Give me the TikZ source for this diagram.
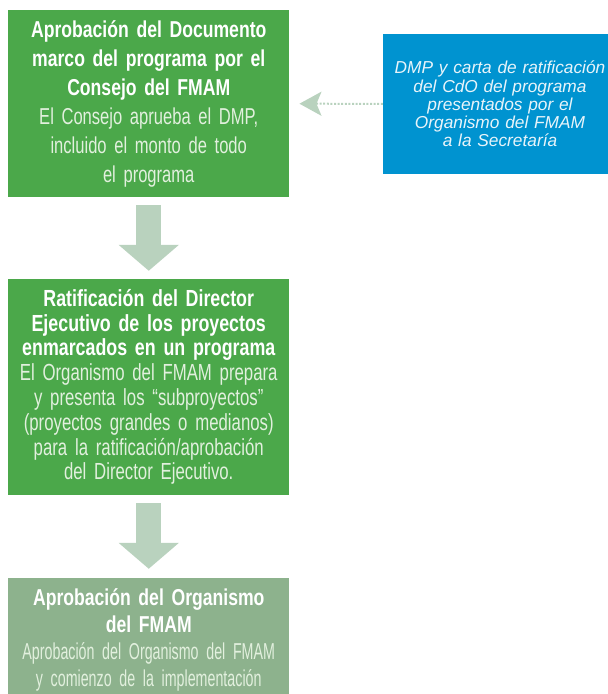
\documentclass[tikz,border=0pt]{standalone}
\usepackage{fontspec}
\setmainfont{Liberation Sans}
\newfontfamily\headfont[FakeStretch=0.765]{Liberation Sans}
\newfontfamily\bodyfont[FakeStretch=0.72]{Liberation Sans}
\newfontfamily\bodynarrow[FakeStretch=0.62]{Liberation Sans}
\usetikzlibrary{arrows.meta}
\definecolor{boxgreen}{RGB}{75,168,74}
\definecolor{palegreen}{RGB}{141,178,141}
\definecolor{arrowgreen}{RGB}{185,210,190}
\definecolor{noteblue}{RGB}{0,147,208}
\definecolor{bodywhite}{RGB}{226,240,222}
\begin{document}
\begin{tikzpicture}[%
x=1pt, y=1pt,
stepbox/.style={fill=boxgreen, text=white, inner sep=0pt, minimum width=281pt, text width=274pt, align=center},
notebox/.style={fill=noteblue, text={rgb,255:red,232;green,244;blue,250}, inner sep=0pt, minimum width=234pt, minimum height=140pt, text width=228pt, align=center, font={\itshape\fontsize{17.3}{18.2}\selectfont}},
blockarrow/.style={draw=arrowgreen, line width=25pt, -{Triangle[length=26pt,width=59pt]}},
noteline/.style={draw=arrowgreen, line width=2pt, dash pattern=on 2pt off 1.6pt, -{Stealth[length=22pt,width=24pt,inset=5pt]}},
]
\useasboundingbox (0,0) rectangle (608,694);
\clip (0,0) rectangle (608,694);
%% box;
\node [stepbox, minimum height=187pt, font={\fontsize{23}{29}\selectfont}] (dmp) at (148.75,590.5)
{\headfont\bfseries Aprobación del Documento\\ marco del programa por el\\ Consejo del FMAM\\
\bodyfont\mdseries\color{bodywhite} El Consejo aprueba el DMP,\\ incluido el monto de todo\\ el programa};
%% box;
\node [stepbox, minimum height=216pt, font={\fontsize{23.3}{24.8}\selectfont}] (ratif) at (148.75,307)
{\headfont\bfseries Ratificación del Director\\ Ejecutivo de los proyectos\\ enmarcados en un programa\\
\bodyfont\mdseries\color{bodywhite} El Organismo del FMAM prepara\\ y presenta los “subproyectos”\\ (proyectos grandes o medianos)\\ para la ratificación/aprobación\\ del Director Ejecutivo.};
%% box;
\node [stepbox, fill=palegreen, minimum height=123pt, font={\fontsize{23}{27}\selectfont}] (approval) at (148.75,54.5)
{\headfont\bfseries Aprobación del Organismo\\ del FMAM\\
\bodynarrow\mdseries\color{bodywhite} Aprobación del Organismo del FMAM\\ y comienzo de la implementación};
%% note;
\node [notebox] (note) at (500,590)
{DMP y carta de ratificación\\ del CdO del programa\\ presentados por el\\ Organismo del FMAM\\ a la Secretaría};
%% arrows;
\draw [blockarrow, shorten <=8pt, shorten >=8pt] (dmp) -- (ratif);
\draw [blockarrow, shorten <=8pt, shorten >=9pt] (ratif) -- (approval);
\draw [noteline, shorten >=10pt] (note) -- (dmp);
\end{tikzpicture}
\end{document}
